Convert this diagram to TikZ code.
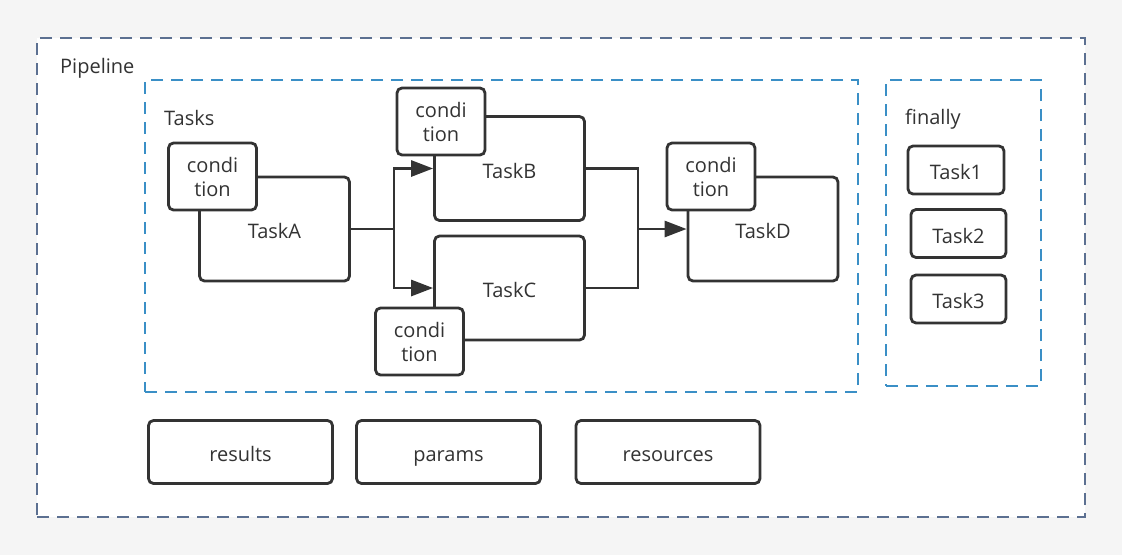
\documentclass[tikz,border=0pt]{standalone}
\usepackage{fontspec}
\setmainfont{Open Sans}
\usetikzlibrary{arrows.meta,%
                positioning}
\definecolor{linegray}{HTML}{333333}
\definecolor{pagegray}{HTML}{F5F5F5}
\definecolor{pipeblue}{HTML}{5C7091}
\definecolor{taskblue}{HTML}{3A8FC6}

\begin{document}
\begin{tikzpicture}[x = 1pt, y = -1pt]
  \tikzset{BoxStyle/.style      = {draw           = linegray,
                                   line width     = 2.8pt,
                                   rounded corners = 5pt,
                                   fill           = white,
                                   text           = linegray,
                                   inner sep      = 0pt,
                                   font           = \fontsize{20}{24}\selectfont}}
  \tikzset{TaskStyle/.style     = {BoxStyle,
                                   text height    = 19pt,
                                   text depth     = 0pt,
                                   minimum width  = 150pt,
                                   minimum height = 104pt}}
  \tikzset{CondStyle/.style     = {BoxStyle,
                                   align          = center,
                                   minimum width  = 88pt,
                                   minimum height = 67pt}}
  \tikzset{FinalStyle/.style    = {TaskStyle,
                                   minimum width  = 96pt,
                                   minimum height = 48pt}}
  \tikzset{SpecStyle/.style     = {TaskStyle,
                                   minimum width  = 184pt,
                                   minimum height = 63pt}}
  \tikzset{GroupStyle/.style    = {draw           = taskblue,
                                   line width     = 1.5pt,
                                   dash pattern   = on 12pt off 8pt,
                                   inner sep      = 0pt}}
  \tikzset{LabelStyle/.style    = {text           = linegray,
                                   anchor         = west,
                                   inner sep      = 0pt,
                                   font           = \fontsize{20}{24}\selectfont}}
  \tikzset{EdgeStyle/.style     = {draw           = linegray,
                                   line width     = 2.8pt}}
  \tikzset{ArrowStyle/.style    = {EdgeStyle,
                                   -{Triangle[length = 22pt, width = 16pt]}}}

  \fill[pagegray] (0,0) rectangle (1122,555);
  \useasboundingbox (0,0) rectangle (1122,555);

  % containers
  \node[GroupStyle, draw = pipeblue, fill = white,
        minimum width = 1048pt, minimum height = 479pt] (pipeline) at (561,277.5) {};
  \node[GroupStyle, minimum width = 713pt, minimum height = 312pt] (tasks) at (501.5,236) {};
  \node[GroupStyle, minimum width = 155pt, minimum height = 306pt] (finally) at (963.5,233) {};
  \node[LabelStyle] (pipelinelabel) at (60,68) {Pipeline};
  \node[LabelStyle] (taskslabel) at (164,118) {Tasks};
  \node[LabelStyle] (finallylabel) at (905,119) {finally};

  % tasks
  \node[TaskStyle] (taskA) at (274.5,229) {TaskA};
  \node[TaskStyle] (taskB) at (509.5,168.5) {TaskB};
  \node[TaskStyle] (taskC) at (509.5,288) {TaskC};
  \node[TaskStyle] (taskD) at (763,229) {TaskD};
  \node[CondStyle] (condA) at (212.5,176.5) {condi\\tion};
  \node[CondStyle] (condB) at (441,121.5) {condi\\tion};
  \node[CondStyle] (condC) at (419.5,341.5) {condi\\tion};
  \node[CondStyle] (condD) at (711,176.5) {condi\\tion};

  % connectors
  \coordinate[right = 43pt of taskA.east] (fork);
  \coordinate[right = 52pt of taskB.east] (joinB);
  \coordinate[right = 52pt of taskC.east] (joinC);
  \draw[EdgeStyle] (taskA.east) -- (fork);
  \draw[ArrowStyle] (fork) |- (taskB.west);
  \draw[ArrowStyle] (fork) |- (taskC.west);
  \draw[EdgeStyle] (taskB.east) -- (joinB) -- (joinC) -- (taskC.east);
  \draw[ArrowStyle] (joinB |- taskD.west) -- (taskD.west);

  % finally
  \node[FinalStyle] (task1) at (956,170) {Task1};
  \node[FinalStyle, minimum width = 95pt] (task2) at (958.5,233.5) {Task2};
  \node[FinalStyle, minimum width = 95pt] (task3) at (958.5,299) {Task3};

  % specs
  \node[SpecStyle] (results) at (240.5,452) {results};
  \node[SpecStyle] (params) at (448.5,452) {params};
  \node[SpecStyle] (resources) at (668,452) {resources};
\end{tikzpicture}
\end{document}
